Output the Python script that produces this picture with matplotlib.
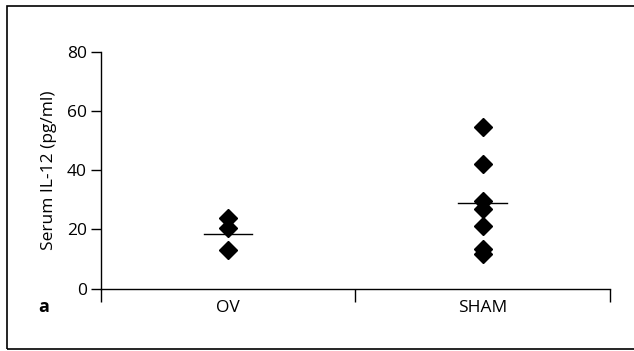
import numpy as np
import matplotlib.pyplot as plt
from matplotlib.patches import Rectangle

# Dane
categories = ["OV", "SHAM"]
ov_values = [23.7, 20.5, 13.0]
sham_values = [54.6, 42.0, 29.5, 27.0, 21.2, 13.2, 11.6]
group_lines = [18.5, 28.8]
y_ticks = [0, 20, 40, 60, 80]

plt.rcParams['font.family'] = ['Open Sans', 'DejaVu Sans']

fig = plt.figure(figsize=(6.34, 3.51), dpi=100)
ax = fig.add_axes([0.159, 0.178, 0.803, 0.675])

positions = [0.5, 1.5]
for pos, vals in zip(positions, [ov_values, sham_values]):
    ax.plot([pos] * len(vals), vals, linestyle='none', marker='D',
            markersize=9.5, color='black', clip_on=False, zorder=3)

for pos, val in zip(positions, group_lines):
    ax.plot([pos - 0.095, pos + 0.095], [val, val], color='black',
            linewidth=1.0, zorder=4)

ax.set_xlim(0, 2)
ax.set_ylim(0, 80)
ax.set_yticks(y_ticks)
ax.set_xticks([0, 1, 2])
ax.set_xticklabels([])
ax.set_xticks(positions, minor=True)
ax.set_xticklabels(categories, minor=True)

ax.spines['top'].set_visible(False)
ax.spines['right'].set_visible(False)
for s in ['left', 'bottom']:
    ax.spines[s].set_linewidth(1.0)

ax.tick_params(axis='y', direction='out', length=7, width=1.0,
               labelsize=12.5, pad=3)
ax.tick_params(axis='x', which='major', direction='out', length=9, width=1.0)
ax.tick_params(axis='x', which='minor', length=0, labelsize=12.5, pad=8)

ax.set_ylabel("Serum IL-12 (pg/ml)", fontsize=12.5, labelpad=7)

fig.text(0.060, 0.125, "a", fontsize=13, fontweight='bold', va='center')

# ramka wokół rysunku
fig.patches.append(Rectangle((0.011, 0.006), 1.2, 0.977, transform=fig.transFigure,
                             fill=False, edgecolor='black', linewidth=1.2))

fig.savefig("out.png", dpi=100)
